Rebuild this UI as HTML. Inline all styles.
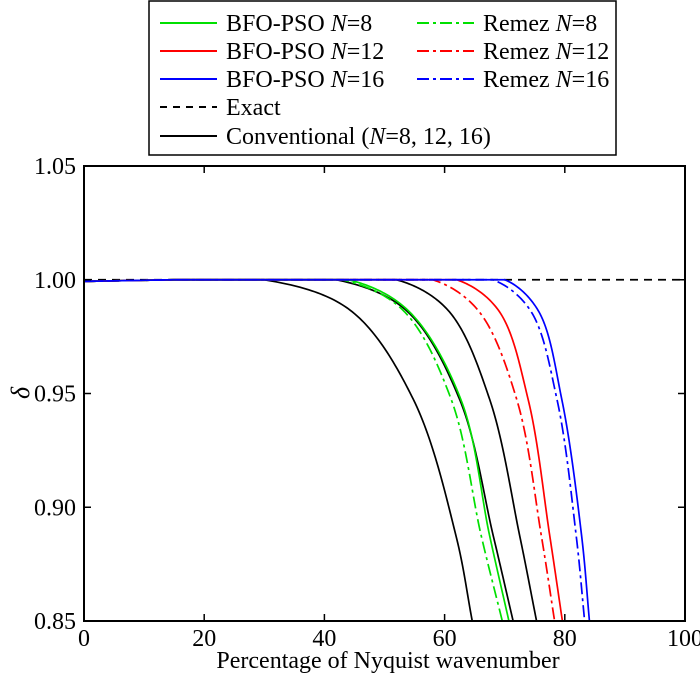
<!DOCTYPE html>
<html><head><meta charset="utf-8"><style>
html,body{margin:0;padding:0;background:#fff;}
svg{display:block;font-family:"Liberation Serif",serif;}
</style></head><body>
<svg id="chart" width="700" height="680" viewBox="0 0 700 680">
<g id="plot"></g>
<g id="axes"></g>
<g id="legend"></g>
</svg>
<script>
const xTicks = [0,20,40,60,80,100];
const yTicks = [0.85,0.90,0.95,1.00,1.05];
const yTickLabels = ["0.85","0.90","0.95","1.00","1.05"];
const yLevels = [0.9993,1.0,1.0,0.9868,0.9474,0.8874,0.85];
const conv1X = [0,15,30.0,44.2,54.8,61.9,64.6];
const conv2X = [0,15,42.0,53.5,62.5,68.1,71.4];
const conv3X = [0,15,52.0,60.5,67.5,72.5,75.3];
const bfo8X = [0,15,44.0,53.8,62.7,67.5,70.7];
const remez8X = [0,15,43.0,53.0,61.1,66.1,69.6];
const bfo12X = [0,15,62.0,68.9,73.9,77.5,79.6];
const remez12X = [0,15,58.0,65.5,72.0,76.1,78.3];
const bfo16X = [0,15,70.0,75.5,79.5,82.8,84.1];
const remez16X = [0,15,68.0,74.2,78.7,81.9,83.3];
const exactX = [0,100];
const exactY = [1.0,1.0];

const L=84,R=685,T=166,B=621;
const X=v=>L+(v/100)*(R-L);
const Y=v=>B-(v-0.85)/0.2*(B-T);
const NS="http://www.w3.org/2000/svg";
function mk(tag,attrs,parent){const e=document.createElementNS(NS,tag);for(const k in attrs)e.setAttribute(k,attrs[k]);parent.appendChild(e);return e;}
function lerp(a,b,ta,tb,t){const w=(tb===ta)?0:(t-ta)/(tb-ta);return [a[0]+(b[0]-a[0])*w,a[1]+(b[1]-a[1])*w];}
function curvePath(xs,ys){
  const all=xs.map((x,i)=>[X(x),Y(ys[i])]);
  if(all.length===2) return "M"+all[0]+" L"+all[1];
  const out=[all[0],all[1]];
  const p=all.slice(2);
  const n=p.length;
  const ext=[[p[0][0]-(p[1][0]-p[0][0]),p[0][1]]].concat(p,[[2*p[n-1][0]-p[n-2][0],2*p[n-1][1]-p[n-2][1]]]);
  out.push(p[0]);
  for(let i=1;i<ext.length-2;i++){
    const P0=ext[i-1],P1=ext[i],P2=ext[i+1],P3=ext[i+2];
    const dd=(a,b)=>Math.max(1e-6,Math.pow(Math.hypot(b[0]-a[0],b[1]-a[1]),0.5));
    const t0=0,t1=t0+dd(P0,P1),t2=t1+dd(P1,P2),t3=t2+dd(P2,P3);
    for(let k=1;k<=30;k++){
      const t=t1+(t2-t1)*k/30;
      const A1=lerp(P0,P1,t0,t1,t),A2=lerp(P1,P2,t1,t2,t),A3=lerp(P2,P3,t2,t3,t);
      const B1=lerp(A1,A2,t0,t2,t),B2=lerp(A2,A3,t1,t3,t);
      out.push(lerp(B1,B2,t1,t2,t));
    }
  }
  return "M"+out.map(q=>q[0].toFixed(2)+","+q[1].toFixed(2)).join(" L");
}
const plot=document.getElementById('plot');
mk('clipPath',{id:'clip'},plot);
mk('rect',{x:L,y:T,width:R-L,height:B-T},document.getElementById('clip'));
const series=[
 ["exact-line",exactX,exactY,"#000","8,6"],
 ["conventional-n8-line",conv1X,yLevels,"#000",""],
 ["conventional-n12-line",conv2X,yLevels,"#000",""],
 ["conventional-n16-line",conv3X,yLevels,"#000",""],
 ["remez-n8-line",remez8X,yLevels,"#00e000","12,4,3,4"],
 ["bfo-pso-n8-line",bfo8X,yLevels,"#00e000",""],
 ["remez-n12-line",remez12X,yLevels,"#ff0000","12,4,3,4"],
 ["bfo-pso-n12-line",bfo12X,yLevels,"#ff0000",""],
 ["remez-n16-line",remez16X,yLevels,"#0000ff","12,4,3,4"],
 ["bfo-pso-n16-line",bfo16X,yLevels,"#0000ff",""]
];
series.forEach(s=>{
  const e=mk('path',{d:curvePath(s[1],s[2]),fill:"none",stroke:s[3],"stroke-width":1.7,"clip-path":"url(#clip)"},plot);
  if(s[4])e.setAttribute('stroke-dasharray',s[4]);
  
  
});
const axes=document.getElementById('axes');
const fr=mk('rect',{x:L,y:T,width:R-L,height:B-T,fill:"none",stroke:"#000","stroke-width":2},axes);


xTicks.forEach(t=>{
  const x=X(t);
  mk('line',{x1:x,y1:B,x2:x,y2:B-7,stroke:"#000","stroke-width":1.5},axes);
  mk('line',{x1:x,y1:T,x2:x,y2:T+7,stroke:"#000","stroke-width":1.5},axes);
  const tx=mk('text',{x:x,y:B+25,"font-size":24,"text-anchor":"middle"},axes);
  tx.textContent=t;
  
  
});
yTicks.forEach((t,i)=>{
  const y=Y(t);
  mk('line',{x1:L,y1:y,x2:L+7,y2:y,stroke:"#000","stroke-width":1.5},axes);
  mk('line',{x1:R,y1:y,x2:R-7,y2:y,stroke:"#000","stroke-width":1.5},axes);
  const tx=mk('text',{x:L-8,y:y+8,"font-size":24,"text-anchor":"end"},axes);
  tx.textContent=yTickLabels[i];
  
  
});
const xt=mk('text',{x:388,y:668,"font-size":24,"text-anchor":"middle"},axes);
xt.textContent="Percentage of Nyquist wavenumber";


const yt=mk('text',{x:0,y:0,"font-size":26,"font-style":"italic","text-anchor":"middle",transform:"translate(29,393) rotate(-90)"},axes);
yt.textContent="δ";



const lg=document.getElementById('legend');
const box=mk('rect',{x:149,y:1,width:467,height:154,fill:"#fff",stroke:"#000","stroke-width":1.5},lg);


const entries=[
 [160,23,"#00e000","","BFO-PSO ","N","=8"],
 [160,51,"#ff0000","","BFO-PSO ","N","=12"],
 [160,79,"#0000ff","","BFO-PSO ","N","=16"],
 [417,23,"#00e000","12,4,3,4","Remez ","N","=8"],
 [417,51,"#ff0000","12,4,3,4","Remez ","N","=12"],
 [417,79,"#0000ff","12,4,3,4","Remez ","N","=16"],
 [160,107,"#000","7,6","Exact","",""],
 [160,136,"#000","","Conventional (","N","=8, 12, 16)"]
];
entries.forEach(en=>{
  const g=mk('g',{},lg);
  
  
  const ln=mk('line',{x1:en[0],y1:en[1],x2:en[0]+57,y2:en[1],stroke:en[2],"stroke-width":2},g);
  if(en[3])ln.setAttribute('stroke-dasharray',en[3]);
  const t=mk('text',{x:en[0]+66,y:en[1]+8,"font-size":24},g);
  mk('tspan',{},t).textContent=en[4];
  if(en[5]){mk('tspan',{"font-style":"italic"},t).textContent=en[5];}
  if(en[6]){mk('tspan',{},t).textContent=en[6];}
});
</script>
</body></html>
